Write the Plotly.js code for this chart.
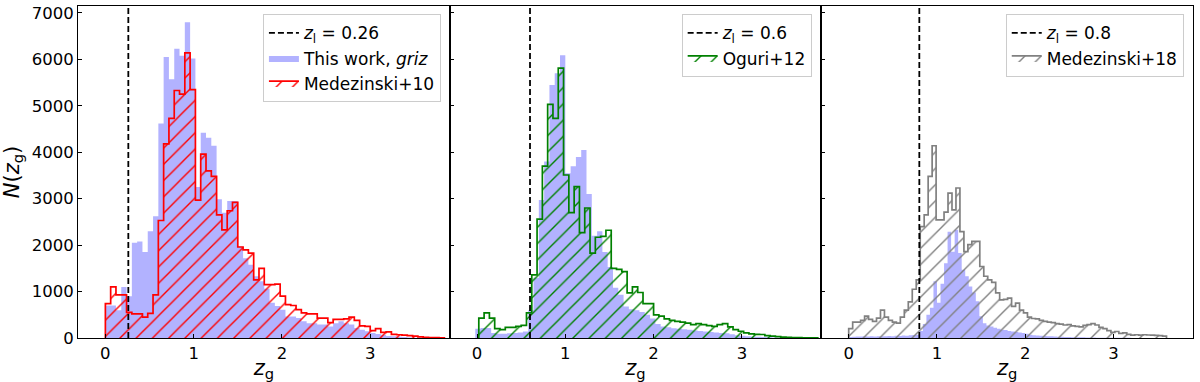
<!DOCTYPE html>
<html>
<head>
<meta charset="utf-8">
<script src="https://cdn.plot.ly/plotly-3.0.1.min.js"></script>
<style>
  html, body { margin: 0; padding: 0; background: #fff; }
  #chart { width: 1200px; height: 382px; }
</style>
</head>
<body>
<div id="chart"></div>
<script>
// counts per bin
// panel 1: bins of 0.06 from z=0
var thisWork1 = [700,700,600,1100,900,2050,2080,1850,2300,2620,
  4620,6050,5570,6230,6080,6800,6020,3250,4420,4310,
  4140,2990,2700,2950,2950,1970,1720,1580,1330,1220,
  1060,760,690,610,465,465,430,360,320,320,
  290,290,250,320,360,320,290,215,180,145,
  110,85,70,45,35,25,20,12,8,5,
  3,2,1,0];
var medezinski10 = [740,1100,930,930,550,520,520,450,530,930,
  2530,4180,4730,5330,5250,6140,5350,2970,3960,3600,
  3480,2650,2330,2740,2920,1960,1900,1830,1250,1500,
  1150,1150,1160,900,720,700,610,540,520,520,
  430,430,330,400,400,410,450,380,260,250,
  160,200,120,130,80,70,60,50,40,25,
  15,10,8,5];

// panel 2: bins of 0.06
var thisWork2 = [200,215,215,110,90,90,100,110,120,140,
  600,1300,2970,3800,5450,5700,6090,3550,3700,3900,
  4050,3100,2200,2300,1850,1530,1080,930,680,620,
  600,560,500,420,300,250,230,210,200,190,
  180,160,150,140,130,120,110,100,80,60,
  50,40,30,25,20,15,10,8,5,3,2];
var oguri12 = [430,540,430,200,180,230,230,250,270,540,
  1360,2560,3700,5030,4730,5810,3510,2700,3260,2270,
  2800,1830,2170,2190,2320,1500,1480,1430,970,1100,
  980,740,740,500,470,410,380,360,340,320,
  290,310,290,265,250,290,310,240,180,145,
  110,90,80,75,50,40,30,20,15,10,
  8,5,3,2];

// panel 3: finer bins
var thisWork3 = [20,25,30,30,35,30,35,30,35,40,
  40,45,40,50,45,55,50,60,65,70,
  150,300,500,650,1220,760,1170,1610,2290,1860,
  2330,1830,1470,1330,1110,980,790,470,320,270,
  250,220,200,180,170,150,140,130,120,110,
  90,70,60,55,50,45,40,35,30,28,
  25,22,20,18,16,15,14,12,10,10,
  8,8,6,6,5,5,4,4,3,3];
var medezinski18 = [200,340,340,380,470,400,360,430,600,450,
  380,340,320,450,600,780,1050,1250,2400,2650,
  3480,4140,2545,2545,2710,3120,2760,3230,2290,1860,
  2010,2080,2080,1540,1330,1250,1200,970,820,830,
  860,680,750,600,540,450,420,410,380,360,
  340,330,310,300,280,290,260,250,240,270,
  290,310,280,230,200,160,120,140,100,110,
  80,60,70,60,70,65,60,55,50,40];

// bin edges: [start, width]
var bins1 = [0, 0.06], bins2blue = [-0.02, 0.06], bins2cmp = [0.02, 0.06];
var bins3blue = [0, 0.04], bins3cmp = [0, 0.045];

var lensZ = [0.26, 0.6, 0.8];
var lensLabels = ['0.26', '0.6', '0.8'];

var font = 'DejaVu Sans, sans-serif';
var yTop = 7150;

// outline of a step histogram, to be drawn with line.shape 'hv'
function stepXY(counts, b) {
  var x = [b[0]], y = [0];
  counts.forEach(function(c, i) {
    x.push(b[0] + i * b[1]);
    y.push(c);
  });
  var end = b[0] + counts.length * b[1];
  x.push(end); y.push(counts[counts.length - 1]);
  x.push(end); y.push(0);
  return {x: x, y: y};
}

function blueHist(counts, b, n, show) {
  var s = stepXY(counts, b);
  return {
    x: s.x, y: s.y, type: 'scatter', mode: 'lines',
    xaxis: 'x' + (n > 1 ? n : ''), yaxis: 'y' + (n > 1 ? n : ''),
    name: 'This work, <i>griz</i>', showlegend: show, legend: 'legend',
    legendrank: 2,
    line: {shape: 'hv', width: 0, color: 'rgba(0,0,255,0.3)'},
    fill: 'tozeroy', fillcolor: 'rgba(0,0,255,0.3)'
  };
}

function hatchHist(counts, b, n, color, name) {
  var s = stepXY(counts, b);
  return {
    x: s.x, y: s.y, type: 'scatter', mode: 'lines',
    xaxis: 'x' + (n > 1 ? n : ''), yaxis: 'y' + (n > 1 ? n : ''),
    name: name, legend: n > 1 ? 'legend' + n : 'legend', legendrank: 3,
    line: {shape: 'hv', width: 1.7, color: color},
    fill: 'tozeroy', fillcolor: 'rgba(0,0,0,0)',
    fillpattern: {shape: '/', fgcolor: color, bgcolor: 'rgba(0,0,0,0)', size: 11.5, solidity: 0.12}
  };
}

function lensLine(n) {
  return {
    x: [lensZ[n - 1], lensZ[n - 1]], y: [0, yTop], type: 'scatter', mode: 'lines',
    xaxis: 'x' + (n > 1 ? n : ''), yaxis: 'y' + (n > 1 ? n : ''),
    name: '<i>z</i><sub>l</sub> = ' + lensLabels[n - 1],
    legend: n > 1 ? 'legend' + n : 'legend', legendrank: 1,
    line: {color: '#000', width: 1.8, dash: '6px,3px'}
  };
}

var data = [
  blueHist(thisWork1, bins1, 1, true),
  hatchHist(medezinski10, bins1, 1, '#ff0000', 'Medezinski+10'),
  lensLine(1),
  blueHist(thisWork2, bins2blue, 2, false),
  hatchHist(oguri12, bins2cmp, 2, '#008000', 'Oguri+12'),
  lensLine(2),
  blueHist(thisWork3, bins3blue, 3, false),
  hatchHist(medezinski18, bins3cmp, 3, '#808080', 'Medezinski+18'),
  lensLine(3)
];

function xAxis(dom, anchor) {
  return {
    domain: dom, anchor: anchor, range: [-0.31, 3.9],
    tickvals: [0, 1, 2, 3], ticks: 'inside', ticklen: 4, tickwidth: 1, tickcolor: '#000',
    showline: true, mirror: true, linecolor: '#000', linewidth: 1,
    showgrid: false, zeroline: false,
    tickfont: {family: font, size: 16.5, color: '#000'},
    title: {text: '<i>z</i><sub>g</sub>', font: {family: font, size: 21, color: '#000'}, standoff: 4}
  };
}
function yAxis(anchor, labels) {
  return {
    anchor: anchor, range: [0, yTop],
    tickvals: [0, 1000, 2000, 3000, 4000, 5000, 6000, 7000],
    ticks: 'inside', ticklen: 4, tickwidth: 1, tickcolor: '#000',
    showticklabels: labels,
    showline: true, mirror: true, linecolor: '#000', linewidth: 1,
    showgrid: false, zeroline: false,
    tickfont: {family: font, size: 16.5, color: '#000'}
  };
}
function legendBox(xr) {
  return {
    x: xr, y: 0.975, xanchor: 'right', yanchor: 'top',
    bgcolor: 'rgba(255,255,255,0.8)', bordercolor: '#cccccc', borderwidth: 1,
    font: {family: font, size: 17, color: '#000'}
  };
}

var y1 = yAxis('x', true);
y1.title = {text: '<i>N</i>(<i>z</i><sub>g</sub>)', font: {family: font, size: 21, color: '#000'}, standoff: 8};

var layout = {
  width: 1200, height: 382,
  margin: {l: 78, r: 7, t: 6, b: 44},
  paper_bgcolor: '#fff', plot_bgcolor: '#fff',
  font: {family: font, color: '#000'},
  xaxis: xAxis([0, 1 / 3], 'y'),
  xaxis2: xAxis([1 / 3, 2 / 3], 'y2'),
  xaxis3: xAxis([2 / 3, 1], 'y3'),
  yaxis: y1,
  yaxis2: yAxis('x2', false),
  yaxis3: yAxis('x3', false),
  legend: legendBox(0.3255),
  legend2: legendBox(0.658),
  legend3: legendBox(0.9917)
};

Plotly.newPlot('chart', data, layout, {staticPlot: true});
</script>
</body>
</html>
